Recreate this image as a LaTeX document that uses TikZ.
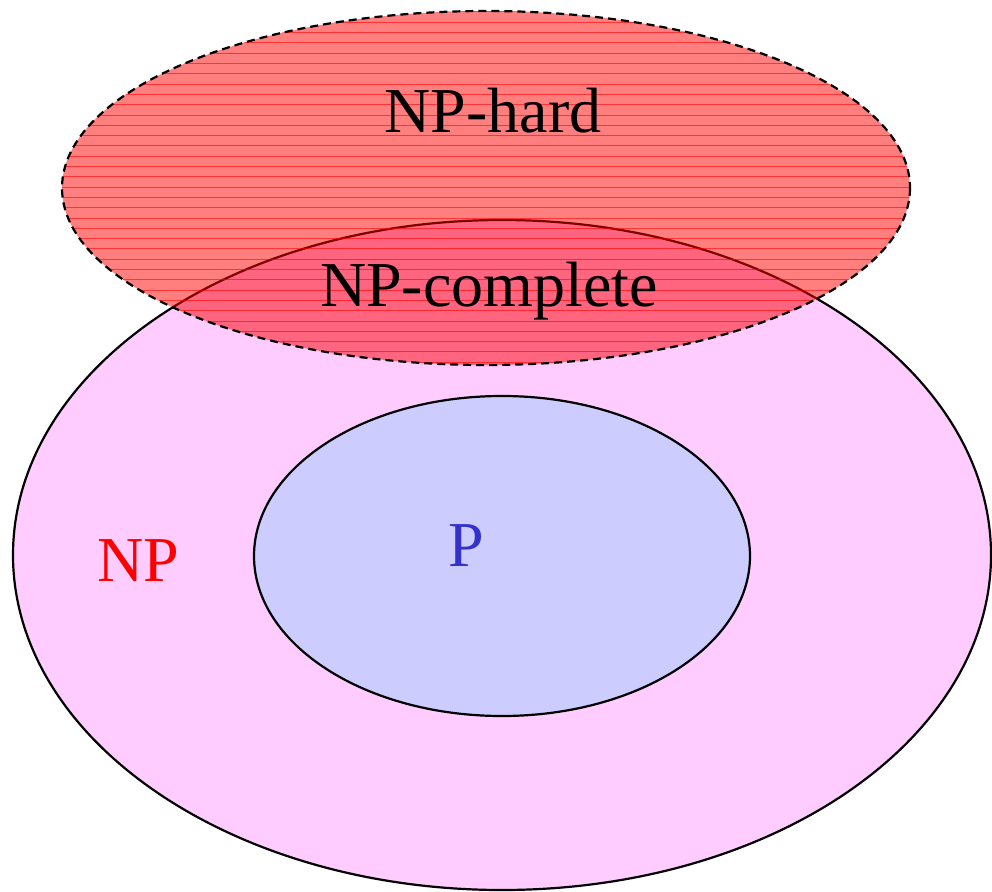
\documentclass[tikz,border=0pt]{standalone}
\usepackage{fontspec}
\setmainfont{Liberation Serif}
\begin{document}
\begin{tikzpicture}[x=1pt,y=-1pt,
  setline/.style={line width=2.2pt, draw=black},
  lbl/.style={inner sep=0pt, font=\fontsize{64}{70}\selectfont}]
\useasboundingbox (0,0) rectangle (992,891);
% NP
\draw[setline, fill={rgb,255:red,255;green,204;blue,255}] (502,555) ellipse [x radius=489, y radius=335];
% P
\draw[setline, fill={rgb,255:red,204;green,204;blue,255}] (502,556) ellipse [x radius=248, y radius=160];
% NP-hard, translucent and hatched
\fill[red, opacity=0.5] (486,188) ellipse [x radius=424, y radius=177];
\begin{scope}
  \clip (486,188) ellipse [x radius=424, y radius=177];
  \foreach \k in {0,...,35} {
    \draw[red, opacity=0.6, line width=1pt] (50,12+10.3*\k) -- (930,12+10.3*\k);
  }
\end{scope}
\draw[line width=2.2pt, dash pattern=on 8pt off 5pt] (486,188) ellipse [x radius=424, y radius=177];
% labels
\node[lbl] (hard) at (493,111) {NP-hard};
\node[lbl] (complete) at (489,291) {NP-complete};
\node[lbl, text=red] (np) at (138,561) {NP};
\node[lbl, text={rgb,255:red,51;green,51;blue,204}] (p) at (466,546) {P};
\end{tikzpicture}
\end{document}
